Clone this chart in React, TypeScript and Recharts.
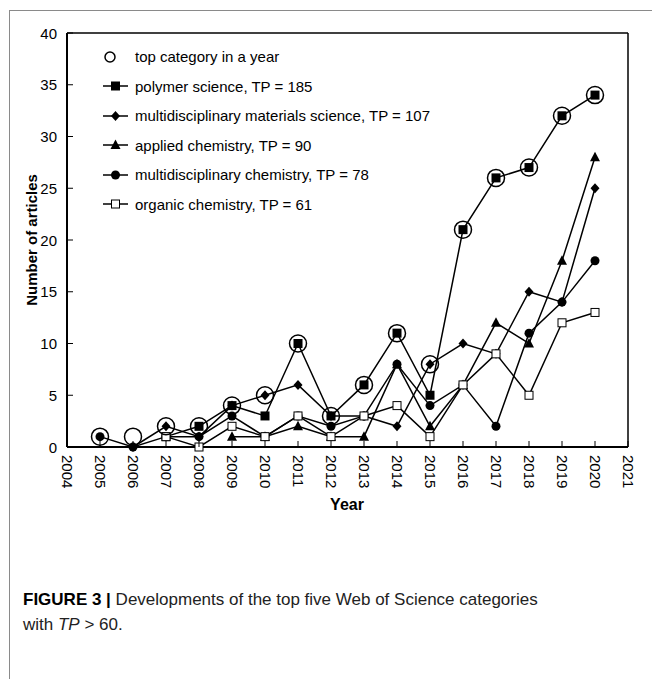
import React from "react";
import { LineChart, Line, XAxis, YAxis, ReferenceLine } from "recharts";

// x-axis ticks and y-axis ticks
const YEAR_TICKS = [2004, 2005, 2006, 2007, 2008, 2009, 2010, 2011, 2012, 2013, 2014, 2015, 2016, 2017, 2018, 2019, 2020, 2021];
const COUNT_TICKS = [0, 5, 10, 15, 20, 25, 30, 35, 40];

// top category in a year (open circles)
const TOP_YEARS = [2005, 2006, 2007, 2008, 2009, 2010, 2011, 2012, 2013, 2014, 2015, 2016, 2017, 2018, 2019, 2020];
const TOP_VALUES = [1, 1, 2, 2, 4, 5, 10, 3, 6, 11, 8, 21, 26, 27, 32, 34];

// polymer science, TP = 185
const POLYMER_YEARS = [2007, 2008, 2009, 2010, 2011, 2012, 2013, 2014, 2015, 2016, 2017, 2018, 2019, 2020];
const POLYMER_VALUES = [1, 2, 4, 3, 10, 3, 6, 11, 5, 21, 26, 27, 32, 34];

// multidisciplinary materials science, TP = 107
const MATERIALS_YEARS = [2006, 2007, 2008, 2009, 2010, 2011, 2012, 2013, 2014, 2015, 2016, 2017, 2018, 2019, 2020];
const MATERIALS_VALUES = [0, 2, 1, 4, 5, 6, 3, 3, 2, 8, 10, 9, 15, 14, 25];

// applied chemistry, TP = 90
const APPLIED_YEARS = [2009, 2010, 2011, 2012, 2013, 2014, 2015, 2016, 2017, 2018, 2019, 2020];
const APPLIED_VALUES = [1, 1, 2, 1, 1, 8, 2, 6, 12, 10, 18, 28];

// multidisciplinary chemistry, TP = 78
const MULTICHEM_YEARS = [2005, 2006, 2007, 2008, 2009, 2010, 2011, 2012, 2013, 2014, 2015, 2016, 2017, 2018, 2019, 2020];
const MULTICHEM_VALUES = [1, 0, 1, 1, 3, 1, 3, 2, 3, 8, 4, 6, 2, 11, 14, 18];

// organic chemistry, TP = 61
const ORGANIC_YEARS = [2007, 2008, 2009, 2010, 2011, 2012, 2013, 2014, 2015, 2016, 2017, 2018, 2019, 2020];
const ORGANIC_VALUES = [1, 0, 2, 1, 3, 1, 3, 4, 1, 6, 9, 5, 12, 13];

type Marker = "bigCircle" | "square" | "diamond" | "triangle" | "circle" | "openSquare";

const SERIES: { key: string; label: string; marker: Marker; years: number[]; values: number[] }[] = [
  { key: "polymer", label: "polymer science, TP = 185", marker: "square", years: POLYMER_YEARS, values: POLYMER_VALUES },
  { key: "materials", label: "multidisciplinary materials science, TP = 107", marker: "diamond", years: MATERIALS_YEARS, values: MATERIALS_VALUES },
  { key: "applied", label: "applied chemistry, TP = 90", marker: "triangle", years: APPLIED_YEARS, values: APPLIED_VALUES },
  { key: "multichem", label: "multidisciplinary chemistry, TP = 78", marker: "circle", years: MULTICHEM_YEARS, values: MULTICHEM_VALUES },
  { key: "organic", label: "organic chemistry, TP = 61", marker: "openSquare", years: ORGANIC_YEARS, values: ORGANIC_VALUES },
];

const FONT = '"Liberation Sans", Arial, sans-serif';

function toRows(years: number[], values: number[]) {
  return years.map((year, i) => ({ year, v: values[i] }));
}

function drawMarker(marker: Marker, cx: number, cy: number, key?: string | number) {
  switch (marker) {
    case "bigCircle":
      return <circle key={key} cx={cx} cy={cy} r={8.5} fill="none" stroke="#000" strokeWidth={1.5} />;
    case "square":
      return <rect key={key} x={cx - 4.5} y={cy - 4.5} width={9} height={9} fill="#000" />;
    case "diamond":
      return <polygon key={key} points={`${cx},${cy - 5} ${cx + 4.5},${cy} ${cx},${cy + 5} ${cx - 4.5},${cy}`} fill="#000" />;
    case "triangle":
      return <polygon key={key} points={`${cx},${cy - 5.5} ${cx + 5},${cy + 4} ${cx - 5},${cy + 4}`} fill="#000" />;
    case "circle":
      return <circle key={key} cx={cx} cy={cy} r={4.5} fill="#000" />;
    case "openSquare":
      return <rect key={key} x={cx - 4} y={cy - 4} width={8} height={8} fill="#fff" stroke="#000" strokeWidth={1} />;
  }
}

function XTick(props: any) {
  const { x, y, payload } = props;
  return (
    <g>
      <line x1={x} x2={x} y1={y} y2={y - 6} stroke="#000" strokeWidth={1} />
      <text
        x={x}
        y={y + 8}
        transform={`rotate(90, ${x}, ${y + 8})`}
        textAnchor="start"
        dominantBaseline="central"
        fontSize={15}
        fontFamily={FONT}
        fill="#000"
      >
        {payload.value}
      </text>
    </g>
  );
}

function YTick(props: any) {
  const { x, y, payload } = props;
  return (
    <g>
      <line x1={x} x2={x + 6} y1={y} y2={y} stroke="#000" strokeWidth={1} />
      <text x={x - 10} y={y} textAnchor="end" dominantBaseline="central" fontSize={15} fontFamily={FONT} fill="#000">
        {payload.value}
      </text>
    </g>
  );
}

function LegendBox() {
  const rows: { label: string; marker: Marker; line: boolean }[] = [
    { label: "top category in a year", marker: "bigCircle", line: false },
    ...SERIES.map((s) => ({ label: s.label, marker: s.marker, line: true })),
  ];
  return (
    <div style={{ position: "absolute", left: 101, top: 42, fontFamily: FONT, fontSize: 15, color: "#000" }}>
      {rows.map((r) => (
        <div key={r.label} style={{ display: "flex", alignItems: "center", height: 29.5 }}>
          <svg width={30} height={20} style={{ marginRight: 4 }}>
            {r.line && <line x1={2} x2={27} y1={10} y2={10} stroke="#000" strokeWidth={1.5} />}
            {r.marker === "bigCircle" ? (
              <circle cx={9} cy={10} r={5} fill="none" stroke="#000" strokeWidth={1.5} />
            ) : (
              drawMarker(r.marker, 14.5, 10)
            )}
          </svg>
          <span>{r.label}</span>
        </div>
      ))}
    </div>
  );
}

export default function App() {
  return (
    <div style={{ position: "absolute", left: 0, top: 0, width: 652, height: 679, background: "#fff", overflow: "hidden" }}>
      {/* page frame */}
      <div
        style={{
          position: "absolute",
          left: 9,
          top: 10,
          right: 0,
          bottom: 0,
          borderLeft: "1px solid #8a8a8a",
          borderTop: "1px solid #8a8a8a",
        }}
      />
      <div style={{ position: "absolute", left: 0, top: 0 }}>
        <LineChart width={652} height={520} margin={{ top: 33, right: 24, left: 0, bottom: 0 }}>
          <XAxis
            dataKey="year"
            type="number"
            domain={[2004, 2021]}
            ticks={YEAR_TICKS}
            interval={0}
            allowDuplicatedCategory={false}
            axisLine={{ stroke: "#000", strokeWidth: 2 }}
            tickLine={false}
            tickSize={0}
            tickMargin={0}
            tick={<XTick />}
            height={73}
          />
          <YAxis
            type="number"
            domain={[0, 40]}
            ticks={COUNT_TICKS}
            interval={0}
            axisLine={{ stroke: "#000", strokeWidth: 2 }}
            tickLine={false}
            tickSize={0}
            tickMargin={0}
            tick={<YTick />}
            width={67}
          />
          <ReferenceLine y={40} stroke="#000" strokeWidth={1.5} />
          <ReferenceLine x={2021} stroke="#000" strokeWidth={1.5} />
          {SERIES.map((s) => (
            <Line
              key={s.key}
              data={toRows(s.years, s.values)}
              dataKey="v"
              type="linear"
              stroke="#000"
              strokeWidth={1.5}
              isAnimationActive={false}
              dot={(p: any) => drawMarker(s.marker, p.cx, p.cy, `${s.key}-${p.index}`)}
              activeDot={false}
            />
          ))}
          <Line
            data={toRows(TOP_YEARS, TOP_VALUES)}
            dataKey="v"
            stroke="none"
            isAnimationActive={false}
            dot={(p: any) => drawMarker("bigCircle", p.cx, p.cy, `top-${p.index}`)}
            activeDot={false}
          />
        </LineChart>
      </div>
      <LegendBox />
      {/* axis titles */}
      <div
        style={{
          position: "absolute",
          left: 31,
          top: 240,
          transform: "translate(-50%, -50%) rotate(-90deg)",
          whiteSpace: "nowrap",
          fontFamily: FONT,
          fontWeight: "bold",
          fontSize: 15,
        }}
      >
        Number of articles
      </div>
      <div
        style={{
          position: "absolute",
          left: 347,
          top: 505,
          transform: "translate(-50%, -50%)",
          fontFamily: FONT,
          fontWeight: "bold",
          fontSize: 16,
        }}
      >
        Year
      </div>
      {/* caption */}
      <div
        style={{
          position: "absolute",
          left: 23,
          top: 587,
          fontFamily: FONT,
          fontSize: 17,
          lineHeight: "25px",
          color: "#222",
        }}
      >
        <div>
          <b style={{ color: "#000" }}>FIGURE 3 |</b> Developments of the top five Web of Science categories
        </div>
        <div>
          with <i>TP</i> &gt; 60.
        </div>
      </div>
    </div>
  );
}
